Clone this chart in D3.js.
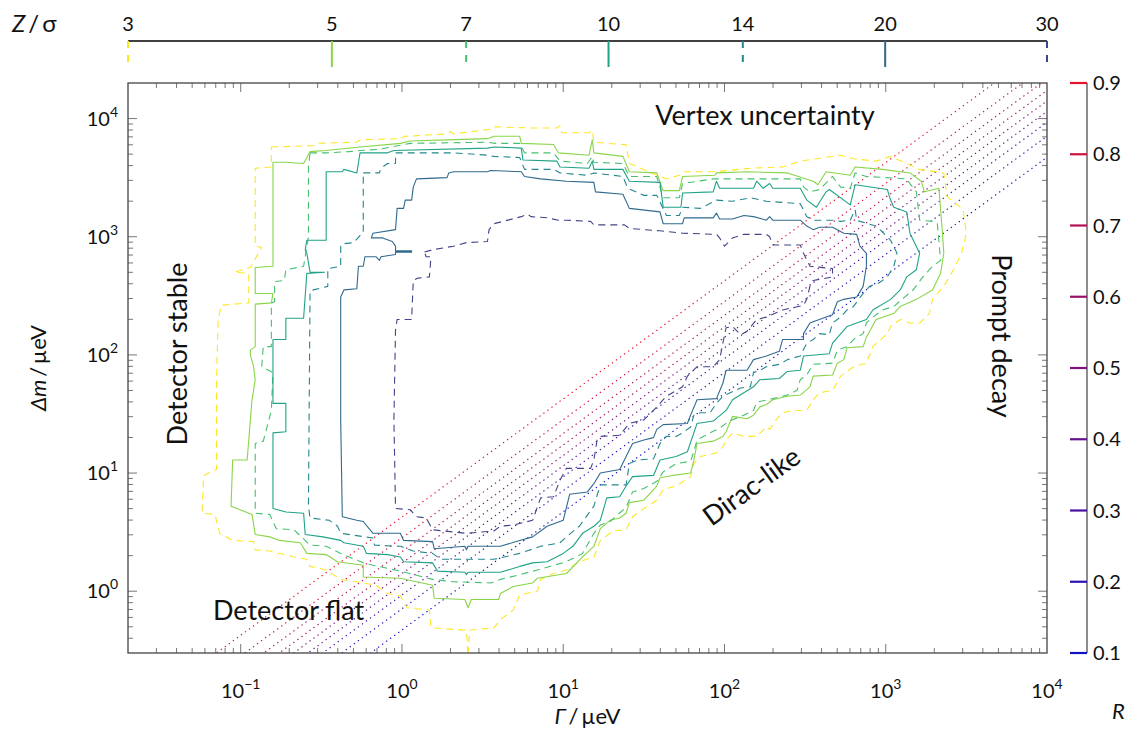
<!DOCTYPE html>
<html>
<head>
<meta charset="utf-8">
<script src="https://cdn.jsdelivr.net/npm/d3@7"></script>
<style>
html,body{margin:0;padding:0;background:#fff;}
svg{display:block;}
text{font-family:Lato,"Open Sans",sans-serif;fill:#111;}
</style>
</head>
<body>
<svg id="chart" width="1140" height="729"></svg>
<script>
// ---------------- data ----------------
const zLevels = [3, 5, 7, 10, 14, 20, 30];            // significance Z/σ of each contour
const zDashed = [true, false, true, false, true, false, true];
const rLevels = [0.1, 0.2, 0.3, 0.4, 0.5, 0.6, 0.7, 0.8, 0.9];
const rRatios = [0.47, 0.71, 0.93, 1.15, 1.41, 1.73, 2.16, 2.83, 4.24]; // Δm/Γ of each dotted R line
const xTickExps = [-1, 0, 1, 2, 3, 4];
const yTickExps = [0, 1, 2, 3, 4];
const zTickLabels = ["3", "5", "7", "10", "14", "20", "30"];
const rTickLabels = ["0.1","0.2","0.3","0.4","0.5","0.6","0.7","0.8","0.9"];

// contour vertices: [log10(Γ/μeV), log10(Δm/μeV)]
const contour3 = [[-0.81,3.76],[-0.55,3.77],[-0.53,3.79],[-0.28,3.80],[-0.26,3.82],[-0.01,3.83],[0.02,3.85],[0.28,3.87],[0.30,3.89],[0.32,3.87],[0.55,3.91],[0.57,3.93],[0.81,3.92],[0.96,3.92],[0.98,3.94],[0.99,3.88],[1.16,3.88],[1.18,3.90],[1.19,3.80],[1.37,3.78],[1.39,3.78],[1.41,3.62],[1.58,3.52],[1.64,3.49],[1.72,3.52],[1.74,3.55],[1.95,3.55],[2.16,3.58],[2.36,3.59],[2.47,3.64],[2.72,3.69],[2.80,3.66],[2.94,3.64],[3.03,3.68],[3.21,3.57],[3.36,3.54],[3.38,3.34],[3.48,3.23],[3.50,3.03],[3.47,2.86],[3.42,2.72],[3.36,2.58],[3.29,2.47],[3.27,2.35],[3.21,2.27],[3.15,2.27],[3.09,2.30],[3.03,2.24],[3.01,2.18],[2.92,2.07],[2.88,1.93],[2.80,1.90],[2.72,1.82],[2.67,1.70],[2.59,1.68],[2.55,1.62],[2.51,1.53],[2.43,1.53],[2.36,1.51],[2.32,1.45],[2.28,1.37],[2.26,1.39],[2.20,1.31],[2.12,1.31],[2.05,1.34],[2.01,1.28],[1.99,1.22],[1.95,1.17],[1.85,1.14],[1.81,1.08],[1.79,0.97],[1.70,0.89],[1.62,0.86],[1.58,0.77],[1.50,0.70],[1.43,0.63],[1.39,0.52],[1.31,0.51],[1.23,0.43],[1.19,0.29],[1.10,0.25],[1.02,0.18],[0.94,0.15],[0.86,0.10],[0.84,0.00],[0.73,-0.03],[0.69,-0.16],[0.61,-0.24],[0.57,-0.31],[0.42,-0.33],[0.41,-0.55],[0.40,-0.33],[0.18,-0.31],[0.17,-0.16],[0.03,-0.14],[-0.01,-0.04],[-0.09,-0.02],[-0.16,0.05],[-0.28,0.08],[-0.38,0.10],[-0.47,0.18],[-0.57,0.21],[-0.59,0.27],[-0.67,0.29],[-0.82,0.34],[-0.91,0.35],[-0.92,0.42],[-1.05,0.43],[-1.13,0.49],[-1.16,0.65],[-1.24,0.66],[-1.23,0.98],[-1.15,1.03],[-1.15,1.79],[-1.14,2.30],[-1.12,2.42],[-0.95,2.44],[-0.95,2.69],[-1.04,2.70],[-0.94,2.74],[-0.87,2.91],[-0.91,2.92],[-0.91,3.58],[-0.81,3.59]];
const contour5 = [[-0.80,3.63],[-0.72,3.63],[-0.61,3.62],[-0.57,3.72],[-0.47,3.73],[-0.26,3.76],[-0.01,3.79],[0.05,3.81],[0.28,3.82],[0.53,3.83],[0.57,3.85],[0.73,3.85],[0.74,3.79],[0.94,3.78],[0.97,3.71],[1.16,3.69],[1.18,3.82],[1.19,3.71],[1.37,3.68],[1.41,3.55],[1.58,3.54],[1.62,3.39],[1.72,3.39],[1.74,3.51],[1.94,3.52],[1.95,3.54],[2.14,3.55],[2.39,3.54],[2.55,3.47],[2.58,3.44],[2.63,3.55],[2.78,3.52],[2.81,3.59],[2.98,3.57],[3.15,3.54],[3.22,3.47],[3.24,3.38],[3.33,3.41],[3.35,3.06],[3.36,2.86],[3.34,2.69],[3.29,2.55],[3.19,2.47],[3.09,2.41],[3.05,2.35],[2.94,2.30],[2.88,2.15],[2.86,2.07],[2.76,2.06],[2.74,1.96],[2.70,1.93],[2.67,1.83],[2.55,1.82],[2.53,1.73],[2.47,1.66],[2.39,1.65],[2.30,1.62],[2.26,1.58],[2.22,1.56],[2.18,1.49],[2.14,1.46],[2.05,1.48],[2.01,1.35],[1.99,1.31],[1.93,1.27],[1.83,1.25],[1.81,1.11],[1.79,1.00],[1.68,0.98],[1.60,0.96],[1.58,0.89],[1.50,0.77],[1.41,0.75],[1.39,0.66],[1.35,0.62],[1.29,0.60],[1.23,0.53],[1.19,0.38],[1.12,0.29],[1.02,0.15],[0.84,0.11],[0.81,0.07],[0.69,0.04],[0.61,-0.02],[0.60,-0.07],[0.43,-0.07],[0.41,-0.14],[0.39,-0.07],[0.20,-0.06],[0.19,0.05],[-0.01,0.11],[-0.24,0.12],[-0.24,0.22],[-0.40,0.25],[-0.47,0.31],[-0.59,0.32],[-0.63,0.41],[-0.76,0.43],[-0.82,0.46],[-0.91,0.48],[-0.93,0.65],[-1.06,0.72],[-1.05,1.11],[-0.96,1.11],[-0.93,1.62],[-0.91,1.79],[-0.92,1.90],[-0.94,2.00],[-0.94,2.04],[-0.91,2.07],[-0.91,2.43],[-0.81,2.44],[-0.80,2.52],[-0.91,2.52],[-0.91,2.74],[-0.80,2.75]];
const contour7 = [[-0.57,3.71],[-0.47,3.71],[-0.33,3.72],[-0.26,3.73],[-0.14,3.74],[0.05,3.79],[0.53,3.80],[0.58,3.79],[0.73,3.79],[0.76,3.71],[0.94,3.71],[0.98,3.64],[1.15,3.62],[1.18,3.68],[1.19,3.63],[1.37,3.62],[1.41,3.51],[1.58,3.51],[1.62,3.33],[1.72,3.33],[1.74,3.45],[1.93,3.49],[2.14,3.49],[2.47,3.49],[2.49,3.42],[2.53,3.38],[2.59,3.40],[2.67,3.51],[2.72,3.42],[2.78,3.41],[2.81,3.54],[2.88,3.51],[3.13,3.49],[3.15,3.45],[3.19,3.38],[3.21,3.14],[3.29,3.13],[3.32,3.11],[3.34,2.80],[3.29,2.75],[3.23,2.66],[3.17,2.55],[3.11,2.48],[3.05,2.41],[2.98,2.38],[2.92,2.32],[2.88,2.27],[2.86,2.18],[2.80,2.13],[2.76,2.07],[2.70,2.04],[2.67,1.93],[2.55,1.92],[2.51,1.83],[2.47,1.79],[2.45,1.70],[2.39,1.66],[2.30,1.63],[2.20,1.60],[2.18,1.53],[2.12,1.49],[2.03,1.44],[1.97,1.38],[1.91,1.34],[1.83,1.28],[1.81,1.18],[1.79,1.10],[1.70,1.08],[1.62,1.01],[1.58,0.93],[1.50,0.87],[1.43,0.84],[1.39,0.71],[1.29,0.59],[1.23,0.56],[1.19,0.49],[1.12,0.32],[1.02,0.25],[0.84,0.18],[0.73,0.14],[0.61,0.10],[0.55,0.07],[0.32,0.08],[0.19,0.10],[-0.01,0.17],[-0.18,0.22],[-0.24,0.24],[-0.38,0.32],[-0.47,0.38],[-0.57,0.39],[-0.67,0.52],[-0.78,0.53],[-0.82,0.65],[-0.91,0.66],[-0.91,1.25],[-0.86,1.27],[-0.81,1.53],[-0.80,1.85],[-0.87,1.90],[-0.86,2.07],[-0.81,2.07],[-0.81,2.44],[-0.79,2.45],[-0.79,2.62],[-0.73,2.63],[-0.72,2.72],[-0.61,2.75],[-0.59,2.92],[-0.58,3.00],[-0.58,3.59]];
const contour10 = [[-0.47,3.55],[-0.37,3.55],[-0.36,3.57],[-0.28,3.54],[-0.26,3.71],[-0.09,3.71],[-0.05,3.73],[0.53,3.75],[0.57,3.76],[0.74,3.75],[0.75,3.65],[0.96,3.64],[0.98,3.59],[1.16,3.58],[1.18,3.64],[1.19,3.57],[1.37,3.57],[1.41,3.47],[1.60,3.46],[1.62,3.25],[1.73,3.25],[1.74,3.37],[1.93,3.38],[1.95,3.47],[1.97,3.41],[2.18,3.41],[2.20,3.47],[2.24,3.41],[2.28,3.45],[2.30,3.41],[2.47,3.41],[2.51,3.31],[2.57,3.25],[2.63,3.38],[2.65,3.40],[2.78,3.27],[2.81,3.44],[3.01,3.40],[3.03,3.31],[3.05,3.25],[3.13,3.21],[3.15,3.03],[3.21,2.86],[3.19,2.72],[3.13,2.66],[3.09,2.55],[3.03,2.47],[2.92,2.38],[2.88,2.30],[2.76,2.24],[2.67,2.10],[2.65,2.01],[2.49,1.99],[2.47,1.87],[2.39,1.86],[2.34,1.80],[2.22,1.79],[2.18,1.73],[2.05,1.62],[2.01,1.53],[1.93,1.44],[1.83,1.42],[1.77,1.18],[1.70,1.14],[1.60,1.11],[1.56,0.98],[1.43,0.97],[1.39,0.89],[1.35,0.80],[1.27,0.79],[1.23,0.60],[1.19,0.55],[1.12,0.49],[1.06,0.38],[1.00,0.32],[0.90,0.25],[0.81,0.24],[0.73,0.21],[0.61,0.16],[0.41,0.16],[0.40,0.14],[0.39,0.16],[0.22,0.17],[0.19,0.24],[0.01,0.25],[-0.01,0.29],[-0.09,0.31],[-0.22,0.32],[-0.24,0.38],[-0.36,0.41],[-0.38,0.43],[-0.49,0.46],[-0.60,0.48],[-0.61,0.66],[-0.72,0.67],[-0.80,0.70],[-0.80,1.34],[-0.72,1.35],[-0.72,1.59],[-0.80,1.59],[-0.80,2.13],[-0.72,2.13],[-0.72,2.31],[-0.61,2.31],[-0.59,2.69],[-0.48,2.70],[-0.57,2.70],[-0.59,2.86],[-0.60,2.89],[-0.59,2.97],[-0.47,2.97]];
const contour14 = [[-0.24,3.54],[-0.14,3.54],[-0.13,3.58],[-0.09,3.62],[-0.04,3.62],[-0.04,3.71],[0.09,3.71],[0.32,3.71],[0.53,3.69],[0.57,3.68],[0.73,3.67],[0.76,3.57],[0.94,3.57],[0.98,3.54],[1.15,3.52],[1.19,3.54],[1.37,3.51],[1.40,3.41],[1.50,3.35],[1.58,3.35],[1.64,3.18],[1.72,3.18],[1.74,3.25],[1.85,3.24],[1.95,3.31],[2.05,3.30],[2.16,3.33],[2.26,3.30],[2.47,3.28],[2.51,3.17],[2.55,3.14],[2.67,3.14],[2.72,3.13],[2.78,3.14],[2.81,3.23],[2.82,3.14],[2.84,3.13],[2.94,3.09],[2.98,3.04],[3.03,2.97],[3.07,2.86],[3.05,2.75],[3.01,2.66],[2.96,2.61],[2.90,2.58],[2.86,2.52],[2.80,2.41],[2.76,2.38],[2.72,2.32],[2.67,2.27],[2.65,2.17],[2.59,2.18],[2.55,2.13],[2.51,2.10],[2.47,1.99],[2.39,1.96],[2.34,1.92],[2.26,1.90],[2.22,1.87],[2.18,1.85],[2.16,1.73],[2.10,1.72],[1.99,1.65],[1.95,1.59],[1.91,1.51],[1.85,1.51],[1.81,1.49],[1.79,1.39],[1.74,1.34],[1.70,1.31],[1.64,1.31],[1.60,1.25],[1.56,1.12],[1.46,1.11],[1.41,1.08],[1.39,0.90],[1.23,0.90],[1.19,0.72],[1.10,0.55],[1.02,0.46],[0.98,0.41],[0.86,0.38],[0.73,0.32],[0.57,0.27],[0.24,0.27],[0.19,0.32],[0.07,0.34],[-0.01,0.38],[-0.17,0.39],[-0.18,0.45],[-0.38,0.49],[-0.40,0.55],[-0.45,0.60],[-0.57,0.62],[-0.58,0.72],[-0.57,2.54],[-0.55,2.55],[-0.46,2.58],[-0.46,2.73],[-0.38,2.75],[-0.38,2.92],[-0.37,2.94],[-0.30,2.95],[-0.26,3.01],[-0.24,3.03]];
const contour20 = [[0.09,3.49],[0.28,3.50],[0.29,3.54],[0.32,3.55],[0.35,3.55],[0.53,3.55],[0.55,3.56],[0.74,3.55],[0.76,3.51],[0.86,3.49],[1.02,3.47],[1.19,3.46],[1.20,3.38],[1.37,3.36],[1.41,3.24],[1.60,3.21],[1.62,3.11],[1.74,3.11],[1.75,3.16],[1.93,3.16],[1.95,3.20],[1.97,3.15],[2.05,3.15],[2.12,3.18],[2.18,3.17],[2.26,3.14],[2.28,3.17],[2.30,3.14],[2.47,3.14],[2.51,3.09],[2.55,3.06],[2.59,3.08],[2.67,3.08],[2.74,3.03],[2.82,3.02],[2.84,2.92],[2.88,2.86],[2.88,2.75],[2.86,2.58],[2.82,2.49],[2.74,2.47],[2.70,2.45],[2.67,2.34],[2.55,2.28],[2.53,2.27],[2.49,2.18],[2.49,2.13],[2.36,2.13],[2.34,2.03],[2.26,1.99],[2.18,1.96],[2.14,1.87],[2.01,1.87],[1.99,1.76],[1.95,1.63],[1.83,1.62],[1.79,1.49],[1.77,1.42],[1.62,1.41],[1.58,1.37],[1.56,1.30],[1.50,1.28],[1.43,1.25],[1.39,1.14],[1.35,1.03],[1.23,1.00],[1.19,0.91],[1.15,0.84],[1.04,0.82],[1.00,0.60],[0.90,0.55],[0.81,0.46],[0.73,0.43],[0.61,0.38],[0.41,0.38],[0.40,0.35],[0.39,0.38],[0.20,0.36],[0.19,0.42],[0.01,0.43],[-0.01,0.49],[-0.18,0.49],[-0.24,0.59],[-0.28,0.60],[-0.37,0.63],[-0.38,1.45],[-0.38,2.49],[-0.36,2.55],[-0.28,2.56],[-0.27,2.75],[-0.24,2.75],[-0.23,2.83],[-0.16,2.83],[-0.14,2.80],[-0.13,2.83],[-0.04,2.85],[-0.04,2.87],[0.06,2.87],[0.06,2.88],[-0.04,2.88],[-0.04,2.92],[-0.06,2.96],[-0.12,2.99],[-0.19,2.99],[-0.18,3.03],[-0.04,3.06],[-0.03,3.24],[0.01,3.24],[0.02,3.31],[0.06,3.31],[0.07,3.42]];
const contour30 = [[0.14,2.87],[0.19,2.89],[0.32,2.92],[0.40,2.95],[0.53,2.96],[0.54,3.06],[0.57,3.11],[0.74,3.17],[0.78,3.19],[0.80,3.17],[0.90,3.16],[0.97,3.14],[1.02,3.14],[1.17,3.13],[1.19,3.10],[1.38,3.10],[1.41,3.07],[1.60,3.05],[1.74,3.03],[1.95,3.02],[1.97,2.99],[2.00,2.92],[2.05,2.99],[2.12,3.02],[2.26,3.02],[2.28,3.00],[2.30,2.93],[2.47,2.93],[2.49,2.86],[2.53,2.75],[2.67,2.73],[2.67,2.66],[2.55,2.63],[2.53,2.58],[2.51,2.47],[2.49,2.42],[2.36,2.38],[2.26,2.32],[2.20,2.30],[2.14,2.20],[2.10,2.17],[2.05,2.24],[2.01,2.23],[1.99,2.10],[1.97,1.96],[1.93,1.90],[1.83,1.90],[1.77,1.82],[1.74,1.73],[1.64,1.65],[1.56,1.53],[1.50,1.45],[1.41,1.42],[1.35,1.32],[1.23,1.31],[1.21,1.28],[1.19,1.11],[1.17,1.04],[1.02,1.04],[0.98,0.94],[0.94,0.80],[0.86,0.79],[0.81,0.60],[0.69,0.56],[0.61,0.55],[0.57,0.51],[0.40,0.49],[0.19,0.52],[0.15,0.62],[0.09,0.63],[0.05,0.69],[-0.04,0.70],[-0.05,1.45],[-0.04,2.21],[-0.03,2.30],[0.06,2.30],[0.07,2.63],[0.10,2.65],[0.17,2.66],[0.18,2.83],[0.15,2.83]];
const contours = [contour3, contour5, contour7, contour10, contour14, contour20, contour30];

// ---------------- layout ----------------
const P = {l: 128, r: 1047, t: 83, b: 653};
const svg = d3.select("#chart");
const x = d3.scaleLog().domain([0.02, 1e4]).range([P.l, P.r]);
const y = d3.scaleLog().domain([0.3, 2e4]).range([P.b, P.t]);
const zScale = d3.scaleLog().domain([3, 30]).range([P.l, P.r]);
const rScale = d3.scaleLinear().domain([0.1, 0.9]).range([P.b, P.t]);
const zColor = z => d3.interpolateViridis(0.2 + 0.8 * (1 - Math.log10(z / 3)));
const rColor = d3.scaleLinear().domain([0.1, 0.9]).range(["#1212c4", "#e8122e"]).interpolate(d3.interpolateRgb);
const DASH = "7 5";

svg.append("rect").attr("width", 1140).attr("height", 729).attr("fill", "#fff");
svg.append("defs").append("clipPath").attr("id", "clip")
  .append("rect").attr("x", P.l).attr("y", P.t).attr("width", P.r - P.l).attr("height", P.b - P.t);

const plot = svg.append("g").attr("clip-path", "url(#clip)");

// dotted R lines  Δm = k Γ
const lineXY = d3.line().x(d => x(d[0])).y(d => y(d[1]));
rLevels.forEach((r, i) => {
  const k = rRatios[i];
  const dom = x.domain();
  plot.append("path")
    .attr("d", lineXY([[dom[0], dom[0] * k], [dom[1], dom[1] * k]]))
    .attr("fill", "none").attr("stroke", rColor(r))
    .attr("stroke-width", 1.2).attr("stroke-dasharray", "1.3 3.7");
});

// contours
const lineLog = d3.line().x(d => x(Math.pow(10, d[0]))).y(d => y(Math.pow(10, d[1])));
contours.forEach((c, i) => {
  plot.append("path")
    .attr("d", lineLog(c) + "Z")
    .attr("fill", "none").attr("stroke", zColor(zLevels[i]))
    .attr("stroke-width", 1.1)
    .attr("stroke-linejoin", "round")
    .attr("stroke-dasharray", zDashed[i] ? DASH : null);
});

// axis ticks (inside, all four sides)
const ticks = svg.append("g").attr("stroke", "#777").attr("stroke-width", 1);
for (let e = -2; e <= 4; e++) {
  for (let m = 1; m <= 9; m++) {
    const v = m * Math.pow(10, e);
    if (v < 0.02 * 0.999 || v > 1e4 * 1.001) continue;
    const px = x(v), len = m === 1 ? 9 : 5;
    if (px <= P.l + 0.5 || px >= P.r - 0.5) continue;
    ticks.append("line").attr("x1", px).attr("x2", px).attr("y1", P.b).attr("y2", P.b - len);
    ticks.append("line").attr("x1", px).attr("x2", px).attr("y1", P.t).attr("y2", P.t + len);
  }
}
for (let e = -1; e <= 4; e++) {
  for (let m = 1; m <= 9; m++) {
    const v = m * Math.pow(10, e);
    if (v < 0.3 * 0.999 || v > 2e4 * 1.001) continue;
    const py = y(v), len = m === 1 ? 9 : 5;
    if (py >= P.b - 0.5 || py <= P.t + 0.5) continue;
    ticks.append("line").attr("y1", py).attr("y2", py).attr("x1", P.l).attr("x2", P.l + len);
    ticks.append("line").attr("y1", py).attr("y2", py).attr("x1", P.r).attr("x2", P.r - len);
  }
}

// frame
svg.append("rect").attr("x", P.l).attr("y", P.t).attr("width", P.r - P.l).attr("height", P.b - P.t)
  .attr("fill", "none").attr("stroke", "#444").attr("stroke-width", 1.3);

// tick labels
xTickExps.forEach(e => {
  const t = svg.append("text").attr("x", x(Math.pow(10, e))).attr("y", 698)
    .attr("text-anchor", "middle").attr("font-size", 20);
  t.append("tspan").text("10");
  t.append("tspan").attr("dy", -9).attr("font-size", 14).text(e < 0 ? "\u2212" + (-e) : String(e));
});
yTickExps.forEach(e => {
  const t = svg.append("text").attr("x", 118).attr("y", y(Math.pow(10, e)) + 7)
    .attr("text-anchor", "end").attr("font-size", 20);
  t.append("tspan").text("10");
  t.append("tspan").attr("dy", -9).attr("font-size", 14).text(String(e));
});

// axis titles
const xt = svg.append("text").attr("x", (P.l + P.r) / 2).attr("y", 724).attr("text-anchor", "middle").attr("font-size", 22);
xt.append("tspan").attr("font-style", "italic").text("\u0393");
xt.append("tspan").text("\u2009/\u2009\u00b5eV");
const yt = svg.append("text").attr("transform", `translate(46,${(P.t + P.b) / 2}) rotate(-90)`).attr("text-anchor", "middle").attr("font-size", 22);
yt.append("tspan").attr("font-style", "italic").text("\u0394m");
yt.append("tspan").text("\u2009/\u2009\u00b5eV");

// top colour bar (Z/σ)
svg.append("line").attr("x1", P.l).attr("x2", P.r).attr("y1", 41).attr("y2", 41).attr("stroke", "#000").attr("stroke-width", 1.5);
zLevels.forEach((z, i) => {
  svg.append("line").attr("x1", zScale(z)).attr("x2", zScale(z)).attr("y1", 41).attr("y2", 67)
    .attr("stroke", zColor(z)).attr("stroke-width", 2)
    .attr("stroke-dasharray", zDashed[i] ? "7 7" : null);
  svg.append("text").attr("x", zScale(z)).attr("y", 31).attr("text-anchor", "middle").attr("font-size", 20).text(zTickLabels[i]);
});
const zt = svg.append("text").attr("x", 12).attr("y", 32).attr("font-size", 24);
zt.append("tspan").attr("font-style", "italic").text("Z");
zt.append("tspan").text("\u2009/\u2009\u03c3");

// right colour bar (R)
svg.append("line").attr("x1", 1087).attr("x2", 1087).attr("y1", P.t).attr("y2", P.b).attr("stroke", "#808080").attr("stroke-width", 1.8);
rLevels.forEach((r, i) => {
  svg.append("line").attr("x1", 1070).attr("x2", 1087).attr("y1", rScale(r)).attr("y2", rScale(r))
    .attr("stroke", rColor(r)).attr("stroke-width", 2.2);
  svg.append("text").attr("x", 1093).attr("y", rScale(r) + 7).attr("font-size", 20).text(rTickLabels[i]);
});
svg.append("text").attr("x", 1112).attr("y", 719).attr("font-size", 22).attr("font-style", "italic").text("R");

// region annotations
const ann = {size: 27};
svg.append("text").attr("x", 765).attr("y", 125).attr("text-anchor", "middle").attr("font-size", ann.size).text("Vertex uncertainty");
svg.append("text").attr("transform", "translate(187,354) rotate(-90)").attr("text-anchor", "middle").attr("font-size", ann.size).text("Detector stable");
svg.append("text").attr("transform", "translate(992,336) rotate(90)").attr("text-anchor", "middle").attr("font-size", ann.size).text("Prompt decay");
svg.append("text").attr("transform", "translate(757,494) rotate(-36)").attr("text-anchor", "middle").attr("font-size", ann.size).text("Dirac-like");
svg.append("text").attr("x", 213).attr("y", 620).attr("font-size", ann.size).text("Detector flat");
</script>
</body>
</html>
